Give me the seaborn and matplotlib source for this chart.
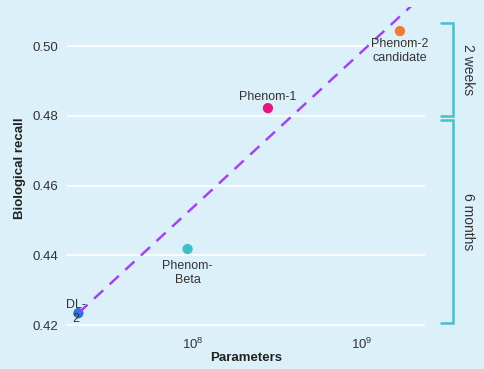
import matplotlib
matplotlib.use("Agg")
import matplotlib.pyplot as plt
import matplotlib.ticker as mticker
import matplotlib.transforms as mtrans
import seaborn as sns
import pandas as pd

models = ["DL-2", "Phenom-Beta", "Phenom-1", "Phenom-2 candidate"]
labels = ["DL-\n2", "Phenom-\nBeta", "Phenom-1", "Phenom-2\ncandidate"]
params = [2.1e7, 9.3e7, 2.78e8, 1.68e9]
recall = [0.4234, 0.4418, 0.4822, 0.5043]
colors = ["#1f77e0", "#3fbfc6", "#e3177f", "#f07a30"]
trend_x = [2.1e7, 2.3e9]
trend_y = [0.4234, 0.5146]
brackets = [("2 weeks", 0.4799, 0.5067), ("6 months", 0.4206, 0.4788)]

bg = "#dcf0fa"
sns.set_theme(style="white", rc={"axes.facecolor": bg, "figure.facecolor": bg})
plt.rcParams["font.family"] = ["Liberation Sans", "DejaVu Sans"]

df = pd.DataFrame({"model": models, "params": params, "recall": recall})

fig = plt.figure(figsize=(4.85, 3.69), dpi=100)
ax = fig.add_axes([0.138, 0.106, 0.738, 0.875])

ax.plot(trend_x, trend_y, linestyle=(0, (5, 3.5)), color="#a444ee", lw=1.8, zorder=3)
sns.scatterplot(data=df, x="params", y="recall", hue="model", palette=colors,
                s=55, edgecolor="none", legend=False, ax=ax, zorder=2)

ax.set_xscale("log")
ax.set_xlim(10**7.2544, 10**9.3728)
ax.set_ylim(0.4186, 0.5112)
ax.set_yticks([0.42, 0.44, 0.46, 0.48, 0.50])
ax.yaxis.set_major_formatter(mticker.FormatStrFormatter("%.2f"))
ax.xaxis.set_major_locator(mticker.LogLocator(base=10, numticks=10))
ax.xaxis.set_minor_locator(mticker.NullLocator())
ax.grid(axis="y", color="white", lw=1.2)
ax.grid(axis="x", visible=False)
for s in ax.spines.values():
    s.set_visible(False)
ax.tick_params(axis="both", length=0, labelsize=9.5, colors="#333333", pad=6)
ax.tick_params(axis="x", pad=5)
ax.set_xlabel("Parameters", fontweight="bold", fontsize=9.5, color="#222222", labelpad=0)
ax.set_ylabel("Biological recall", fontweight="bold", fontsize=9.5, color="#222222", labelpad=5)

offsets = [(-2, 1), (0, -8), (0, 4), (0, -5)]
vas = ["center", "top", "bottom", "top"]
for lab, x, y, off, va in zip(labels, params, recall, offsets, vas):
    ax.annotate(lab, (x, y), xytext=off, textcoords="offset points", ha="center", va=va,
                fontsize=9, color="#333333", linespacing=1.25, zorder=4)

tr = mtrans.blended_transform_factory(ax.transAxes, ax.transData)
bc = "#4bbfc4"
for txt, y0, y1 in brackets:
    ax.plot([1.045, 1.078, 1.078, 1.045], [y0, y0, y1, y1], color=bc, lw=1.8,
            transform=tr, clip_on=False, solid_joinstyle="miter")
    ax.text(1.12, (y0 + y1) / 2, txt, rotation=270, ha="center", va="center",
            fontsize=10, color="#333333", transform=tr)

fig.savefig("out.png", dpi=100, facecolor=bg)
